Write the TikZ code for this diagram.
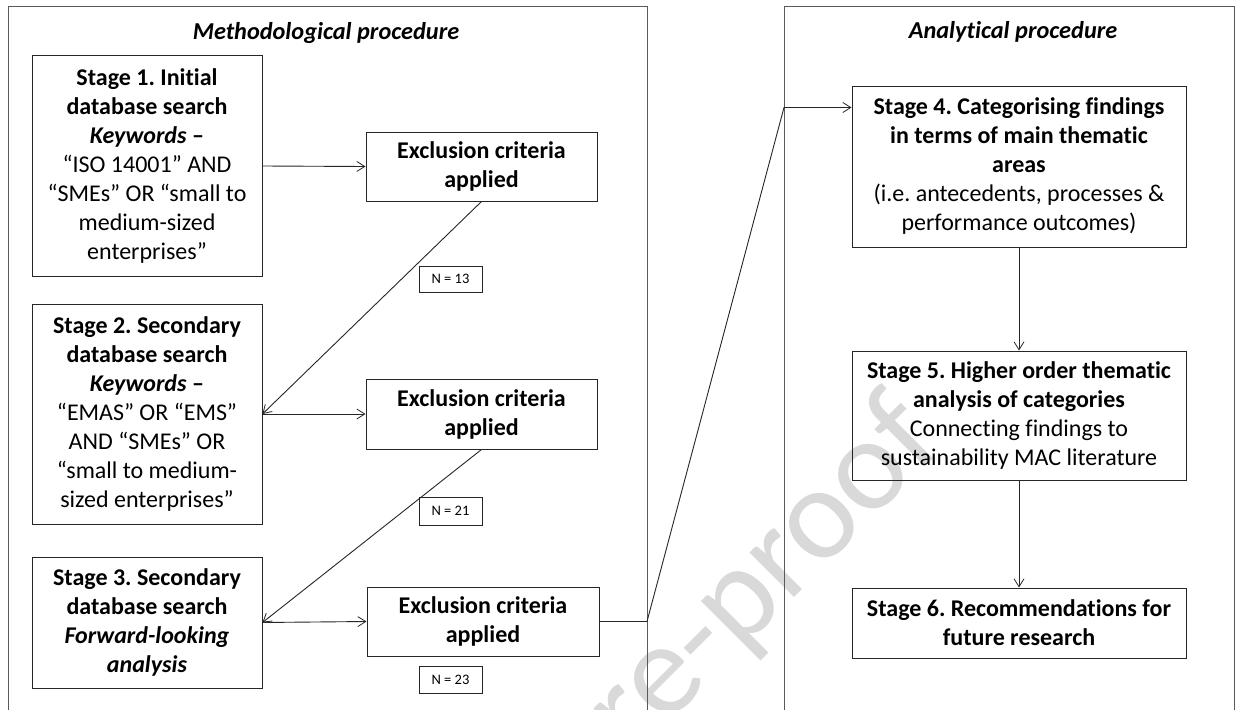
\documentclass[tikz,border=0pt]{standalone}
\usepackage{fontspec}
\setmainfont[Ligatures=NoCommon]{Carlito}
\usetikzlibrary{arrows.meta}
\frenchspacing
\begin{document}
\begin{tikzpicture}[x=1pt,y=-1pt,
  panel/.style={draw=black!65,line width=1pt},
  stagebox/.style={draw=black!85,line width=1pt,inner sep=0pt,align=center,
    font=\fontsize{24}{29}\selectfont},
  nbox/.style={draw=black!85,line width=1pt,inner sep=0pt,align=center,
    minimum width=63pt,font=\fontsize{14.5}{17}\selectfont},
  title/.style={font=\fontsize{24.3}{29}\selectfont\bfseries\itshape},
  conn/.style={draw=black!85,line width=0.9pt},
  arr/.style={conn,-{Straight Barb[length=8pt,width=10pt,line width=0.8pt]}}
]
\useasboundingbox (0,0) rectangle (1236,709);
\fill[white] (0,0) rectangle (1236,709);
% watermark
\begin{scope}
\clip (0,0) rectangle (1236,709);
\node[rotate=45,text=black!15,font=\fontsize{132}{132}\selectfont] (wm) at (592,750) {Journal Pre-proof};
\end{scope}
% panels
\draw[panel] (8,720) -- (8,7) -- (647,7) -- (647,720);
\draw[panel] (784,720) -- (784,7) -- (1234,7) -- (1234,720);
\node[title] (t1) at (326,33) {Methodological procedure};
\node[title] (t2) at (1013,32) {Analytical procedure};
% left column
\node[stagebox,minimum width=230pt,minimum height=220pt] (s1) at (147,166)
  {\textbf{Stage 1. Initial}\\ \textbf{database search}\\ \textbf{\textit{Keywords} –}\\ “ISO 14001” AND\\ “SMEs” OR “small to\\ medium-sized\\ enterprises”};
\node[stagebox,minimum width=230pt,minimum height=220pt] (s2) at (147,414)
  {\textbf{Stage 2. Secondary}\\ \textbf{database search}\\ \textbf{\textit{Keywords} –}\\ “EMAS” OR “EMS”\\ AND “SMEs” OR\\ “small to medium-\\ sized enterprises”};
\node[stagebox,minimum width=230pt,minimum height=131pt] (s3) at (147,622.5)
  {\textbf{Stage 3. Secondary}\\ \textbf{database search}\\ \textbf{\textit{Forward-looking}}\\ \textbf{\textit{analysis}}};
% exclusion boxes
\node[stagebox,minimum width=231pt,minimum height=69pt] (e1) at (481.5,166.5)
  {\textbf{Exclusion criteria}\\ \textbf{applied}};
\node[stagebox,minimum width=231pt,minimum height=70pt] (e2) at (481.5,414)
  {\textbf{Exclusion criteria}\\ \textbf{applied}};
\node[stagebox,minimum width=232pt,minimum height=69pt] (e3) at (483,621.5)
  {\textbf{Exclusion criteria}\\ \textbf{applied}};
% N boxes
\node[nbox,minimum height=26pt] (n1) at (450.5,279) {N = 13};
\node[nbox,minimum height=28pt] (n2) at (450.5,511) {N = 21};
\node[nbox,minimum height=27pt] (n3) at (450.5,679.5) {N = 23};
% right column
\node[stagebox,minimum width=334pt,minimum height=161pt] (s4) at (1019,166.5)
  {\textbf{Stage 4. Categorising findings}\\ \textbf{in terms of main thematic}\\ \textbf{areas}\\ (i.e. antecedents, processes \&\\ performance outcomes)};
\node[stagebox,minimum width=334pt,minimum height=129pt] (s5) at (1019,415.5)
  {\textbf{Stage 5. Higher order thematic}\\ \textbf{analysis of categories}\\ Connecting findings to\\ sustainability MAC literature};
\node[stagebox,minimum width=334pt,minimum height=70pt] (s6) at (1019,623)
  {\textbf{Stage 6. Recommendations for}\\ \textbf{future research}};
% connectors
\draw[arr] (s1.east) -- (e1.west);
\draw[arr] (e1.south) -- (s2.east);
\draw[arr] (s2.east) -- (e2.west);
\draw[arr] (e2.south) -- (s3.east);
\draw[arr] (s3.east) -- (e3.west);
\coordinate (c1) at (647,621.5);
\coordinate (c2) at (784,107.5);
\draw[arr] (e3.east) -- (c1) -- (c2) -- (s4.west |- c2);
\draw[arr] (s4.south) -- (s5.north);
\draw[arr] (s5.south) -- (s6.north);
\end{tikzpicture}
\end{document}
